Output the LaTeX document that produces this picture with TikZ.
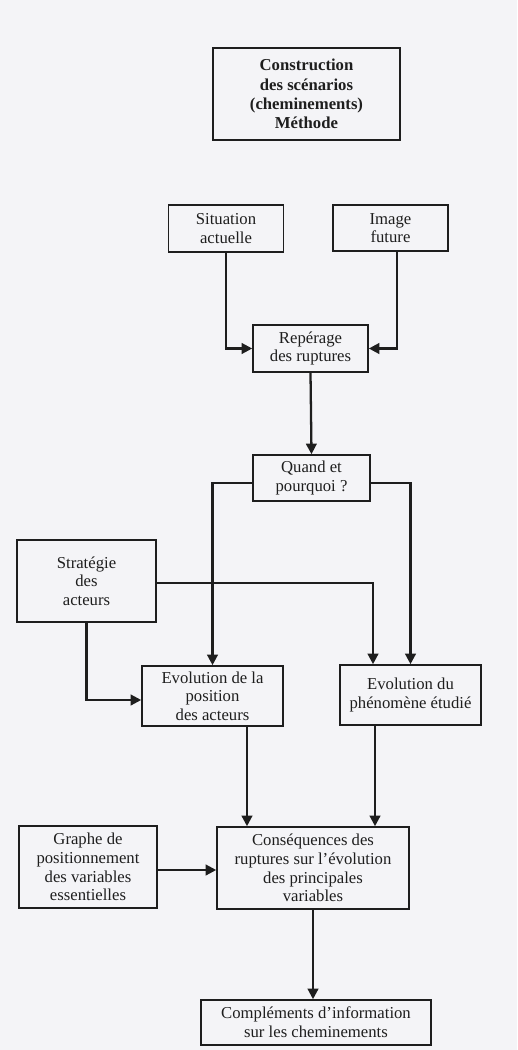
\documentclass[tikz,border=0pt]{standalone}
\usepackage{fontspec}
\setmainfont{Liberation Serif}
\usetikzlibrary{arrows.meta}
\definecolor{paper}{RGB}{244,244,247}
\definecolor{ink}{RGB}{30,30,30}
\begin{document}
\begin{tikzpicture}[x=0.02cm,y=-0.02cm,
  box/.style={draw=ink,line width=0.9pt,fill=paper,inner sep=0pt,align=center,
    font=\fontsize{9.5}{10.6}\selectfont,text=ink},
  titlebox/.style={box,line width=1.6pt,font=\bfseries\fontsize{9.5}{10.9}\selectfont},
  arr/.style={draw=ink,line width=1.3pt,-{Triangle[length=6pt,width=6pt]}}]
\fill[paper] (0,0) rectangle (517,1050);
\useasboundingbox (0,0) rectangle (517,1050);

\node[titlebox,minimum width=3.74cm,minimum height=1.84cm] (title) at (306.5,94)
  {Construction\\des scénarios\\(cheminements)\\Méthode};
\node[box,minimum width=2.3cm,minimum height=0.94cm] (sit) at (226,228.5) {Situation\\actuelle};
\node[box,minimum width=2.3cm,minimum height=0.93cm] (img) at (390.5,228) {Image\\future};
\node[box,minimum width=2.3cm,minimum height=0.94cm] (rep) at (310.5,348.5) {Repérage\\des ruptures};
\node[box,minimum width=2.34cm,minimum height=0.92cm] (quand) at (311.5,478) {Quand et\\pourquoi ?};
\node[box,minimum width=2.78cm,minimum height=1.64cm] (strat) at (86.5,581) {Stratégie\\des\\acteurs};
\node[box,minimum width=2.82cm,minimum height=1.2cm] (evpos) at (212.5,696) {Evolution de la\\position\\des acteurs};
\node[box,minimum width=2.82cm,minimum height=1.2cm] (evphen) at (410.5,695) {Evolution du\\phénomène étudié};
\node[box,minimum width=2.76cm,minimum height=1.64cm] (graphe) at (88,867) {Graphe de\\positionnement\\des variables\\essentielles};
\node[box,minimum width=3.84cm,minimum height=1.64cm] (cons) at (313,868) {Conséquences des\\ruptures sur l’évolution\\des principales\\variables};
\node[box,minimum width=4.6cm,minimum height=0.9cm] (compl) at (316,1022.5) {Compléments d’information\\sur les cheminements};

\draw[arr] (sit.south) |- (rep.west);
\draw[arr] ([xshift=0.13cm]img.south) |- (rep.east);
\draw[arr] (rep.south) -- (quand.north);
\draw[arr] ([yshift=-0.1cm]quand.west) -| (evpos.north);
\draw[arr] ([yshift=-0.1cm]quand.east) -| (evphen.north);
\draw[arr] ([yshift=-0.04cm]strat.east) -| ([xshift=-0.75cm]evphen.north);
\draw[arr] (strat.south) |- ([yshift=-0.08cm]evpos.west);
\draw[arr] ([xshift=0.69cm]evpos.south) coordinate (p1) -- (p1 |- cons.north);
\draw[arr] ([xshift=-0.71cm]evphen.south) coordinate (p2) -- (p2 |- cons.north);
\draw[arr] ([yshift=-0.06cm]graphe.east) coordinate (p3) -- (p3 -| cons.west);
\draw[arr] (cons.south) -- (cons.south |- compl.north);
\end{tikzpicture}
\end{document}
